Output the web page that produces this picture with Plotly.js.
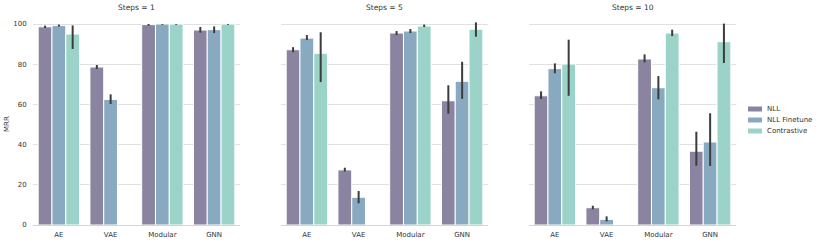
<!DOCTYPE html>
<html>
<head>
<meta charset="utf-8">
<script src="https://cdn.plot.ly/plotly-3.0.1.min.js"></script>
<style>html,body{margin:0;padding:0;background:#fff}#chart{width:817px;height:243px}</style>
</head>
<body>
<div id="chart"></div>
<script>
const categories = ["AE", "VAE", "Modular", "GNN"];
const panelTitles = ["Steps = 1", "Steps = 5", "Steps = 10"];
const seriesNames = ["NLL", "NLL Finetune", "Contrastive"];
const seriesColors = ["#8b84a0", "#89a9c0", "#9bd3c8"];

// values[panel][series][category]
const values = [
  [[98.6, 78.6, 99.7, 97.0], [99.2, 62.5, 100.0, 97.2], [95.0, null, 100.0, 100.0]],
  [[87.2, 27.4, 95.5, 61.8], [93.0, 13.8, 96.5, 71.5], [85.4, null, 99.0, 97.4]],
  [[64.3, 8.6, 82.6, 36.7], [77.8, 2.8, 68.3, 41.3], [80.1, null, 95.5, 91.2]]
];
// error bar upper ends
const errHigh = [
  [[99.2, 79.6, 100.0, 98.5], [99.7, 65.0, 100.0, 98.8], [99.3, null, 100.0, 100.0]],
  [[88.5, 28.5, 96.5, 69.5], [94.5, 16.9, 97.5, 81.2], [95.9, null, 99.7, 100.8]],
  [[66.5, 9.6, 84.9, 46.4], [80.4, 4.3, 74.1, 55.6], [92.2, null, 97.2, 100.2]]
];
// error bar lower ends
const errLow = [
  [[98.0, 77.6, 99.2, 95.7], [98.7, 60.2, 99.6, 95.5], [87.6, null, 99.6, 99.6]],
  [[86.0, 26.6, 94.5, 55.4], [92.0, 10.8, 95.5, 62.8], [71.1, null, 98.5, 93.7]],
  [[62.7, 7.8, 80.9, 29.5], [75.5, 1.8, 62.5, 29.4], [64.3, null, 94.0, 80.6]]
];

const W = 817, H = 243;
const panelPx = [[33, 240], [281, 488], [529, 736]];
const yTopPx = 22, yBotPx = 225;
const font = "DejaVu Sans, sans-serif";
const txt = "#333";

const traces = [];
for (let p = 0; p < 3; p++) {
  for (let s = 0; s < 3; s++) {
    const v = values[p][s];
    traces.push({
      type: "bar",
      x: categories,
      y: v,
      name: seriesNames[s],
      showlegend: false,
      xaxis: p === 0 ? "x" : "x" + (p + 1),
      yaxis: p === 0 ? "y" : "y" + (p + 1),
      marker: {color: seriesColors[s], line: {color: "#ffffff", width: 1}},
      error_y: {
        type: "data", symmetric: false,
        array: v.map((d, i) => d == null ? null : errHigh[p][s][i] - d),
        arrayminus: v.map((d, i) => d == null ? null : d - errLow[p][s][i]),
        color: "#3c3c3c", thickness: 2, width: 0
      }
    });
  }
}

const layout = {
  width: W, height: H,
  margin: {l: 0, r: 0, t: 0, b: 0},
  paper_bgcolor: "#fff", plot_bgcolor: "#fff",
  font: {family: font, size: 7, color: txt},
  barmode: "group", bargap: 0.2, bargroupgap: 0,
  showlegend: false,
  annotations: [],
  shapes: []
};
for (let p = 0; p < 3; p++) {
  const sfx = p === 0 ? "" : String(p + 1);
  layout["xaxis" + sfx] = {
    domain: [panelPx[p][0] / W, panelPx[p][1] / W],
    anchor: "y" + sfx,
    type: "category",
    range: [-0.5, 3.5],
    showline: true, linecolor: "#d4d4d4", linewidth: 1,
    showgrid: false, ticks: "outside", ticklen: 3, tickcolor: "rgba(0,0,0,0)", zeroline: false,
    tickfont: {family: font, size: 7, color: txt}
  };
  layout["yaxis" + sfx] = {
    domain: [(H - yBotPx) / H, (H - yTopPx) / H],
    anchor: "x" + sfx,
    range: [0, 101],
    tickvals: [0, 20, 40, 60, 80, 100],
    showticklabels: p === 0,
    showgrid: true, gridcolor: "#e0e0e0", gridwidth: 1,
    zeroline: false, showline: false, ticks: "outside", ticklen: 4, tickcolor: "rgba(0,0,0,0)",
    tickfont: {family: font, size: 7, color: txt}
  };
  layout.annotations.push({
    text: panelTitles[p], xref: "paper", yref: "paper",
    x: (panelPx[p][0] + panelPx[p][1]) / 2 / W, y: (H - 8) / H,
    xanchor: "center", yanchor: "middle", showarrow: false,
    font: {family: font, size: 7.5, color: txt}
  });
}
// y-axis title
layout.annotations.push({
  text: "MRR", xref: "paper", yref: "paper", x: 7 / W, y: (H - 124) / H,
  xanchor: "center", yanchor: "middle", textangle: -90, showarrow: false,
  font: {family: font, size: 7, color: txt}
});
// legend
const legY = [109, 120, 131];
for (let s = 0; s < 3; s++) {
  layout.shapes.push({
    type: "rect", xref: "paper", yref: "paper",
    x0: 748 / W, x1: 762 / W, y0: (H - legY[s] - 2.5) / H, y1: (H - legY[s] + 2.5) / H,
    fillcolor: seriesColors[s], line: {width: 0}
  });
  layout.annotations.push({
    text: seriesNames[s], xref: "paper", yref: "paper", x: 765 / W, y: (H - legY[s]) / H,
    xanchor: "left", yanchor: "middle", showarrow: false,
    font: {family: font, size: 7, color: txt}
  });
}

Plotly.newPlot("chart", traces, layout, {displayModeBar: false, staticPlot: true});
</script>
</body>
</html>
